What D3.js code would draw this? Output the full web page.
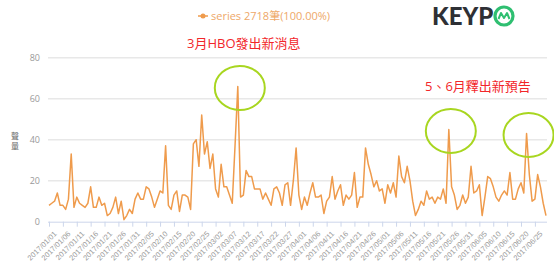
<!DOCTYPE html>
<html>
<head>
<meta charset="utf-8">
<script src="https://cdn.jsdelivr.net/npm/d3@7"></script>
<style>
  body { margin: 0; background: #fff; }
  svg { display: block; font-family: "Open Sans", "Noto Sans CJK TC", sans-serif; }
</style>
</head>
<body>
<svg id="chart" width="554" height="268"></svg>
<script>
// daily volume, 2017/01/01 .. 2017/06/29
const values = [
  8, 9, 10, 14, 8, 8, 6, 11, 33, 7,
  12, 9, 8, 7, 9, 17, 7, 7, 12, 8,
  9, 3, 4, 7, 12, 4, 10, 1, 3, 6,
  4, 11, 14, 11, 11, 17, 16, 12, 7, 11,
  15, 14, 37, 8, 6, 13, 15, 5, 13, 13,
  12, 6, 38, 40, 27, 52, 33, 39, 26, 33,
  16, 12, 28, 17, 17, 13, 9, 37, 66, 12,
  13, 25, 22, 22, 16, 16, 16, 11, 14, 11,
  8, 16, 17, 14, 8, 18, 19, 8, 20, 36,
  13, 6, 12, 8, 14, 19, 12, 12, 13, 4,
  10, 12, 22, 11, 15, 18, 8, 13, 11, 13,
  24, 7, 12, 12, 36, 28, 23, 17, 20, 15,
  16, 9, 18, 14, 19, 12, 32, 22, 19, 27,
  20, 10, 3, 6, 10, 8, 15, 11, 12, 9,
  12, 11, 16, 9, 45, 17, 13, 6, 8, 13,
  9, 12, 27, 14, 15, 18, 3, 12, 22, 21,
  17, 12, 10, 13, 15, 13, 24, 11, 11, 16,
  19, 14, 43, 23, 10, 11, 23, 17, 9, 3
];

const fmt = d3.timeFormat("%Y/%m/%d");
const dates = d3.timeDays(new Date(2017, 0, 1), new Date(2017, 0, 1 + values.length)).map(fmt);

const tickLabels = [
  "2017/01/01", "2017/01/06", "2017/01/11", "2017/01/16", "2017/01/21", "2017/01/26",
  "2017/01/31", "2017/02/05", "2017/02/10", "2017/02/15", "2017/02/20", "2017/02/25",
  "2017/03/02", "2017/03/07", "2017/03/12", "2017/03/17", "2017/03/22", "2017/03/27",
  "2017/04/01", "2017/04/06", "2017/04/11", "2017/04/16", "2017/04/21", "2017/04/26",
  "2017/05/01", "2017/05/06", "2017/05/11", "2017/05/16", "2017/05/21", "2017/05/26",
  "2017/05/31", "2017/06/05", "2017/06/10", "2017/06/15", "2017/06/20", "2017/06/25"
];
const yTicks = [0, 20, 40, 60, 80];

// highlighted peaks
const circled = ["2017/03/10", "2017/05/25", "2017/06/22"];

const svg = d3.select("#chart");

const x = d3.scalePoint().domain(dates).range([49, 546]);
const y = d3.scaleLinear().domain([0, 80]).range([221.7, 57.7]);

// grid
svg.append("g")
  .selectAll("line")
  .data(yTicks.filter(d => d > 0))
  .join("line")
  .attr("x1", 48).attr("x2", 547)
  .attr("y1", d => y(d)).attr("y2", d => y(d))
  .attr("stroke", "#e8e8e8")
  .attr("stroke-width", 1.5);

// y labels
svg.append("g")
  .selectAll("text")
  .data(yTicks)
  .join("text")
  .attr("x", 40)
  .attr("y", d => y(d) + 3)
  .attr("text-anchor", "end")
  .attr("font-size", 9)
  .attr("fill", "#999")
  .text(d => d);

// y name, stacked
svg.append("text")
  .attr("x", 15)
  .attr("y", 139)
  .attr("text-anchor", "middle")
  .attr("font-size", 8)
  .attr("fill", "#666")
  .selectAll("tspan")
  .data(["聲", "量"])
  .join("tspan")
  .attr("x", 15)
  .attr("dy", (d, i) => i ? 9.5 : 0)
  .text(d => d);

// x axis
const xAxis = svg.append("g")
  .attr("transform", `translate(0,${y(0)})`)
  .call(d3.axisBottom(x).tickValues(tickLabels).tickSize(5).tickSizeOuter(0));
xAxis.select(".domain").attr("stroke", "#ccd6eb").attr("d", "M48,0.5H547");
xAxis.selectAll(".tick line").attr("stroke", "#ccd6eb");
xAxis.selectAll(".tick text")
  .attr("font-size", 7.5)
  .attr("fill", "#999")
  .attr("text-anchor", "end")
  .attr("dy", 0)
  .attr("transform", "translate(2,7) rotate(-45)");

// series line
const line = d3.line()
  .x((d, i) => x(dates[i]))
  .y(d => y(d));

svg.append("path")
  .datum(values)
  .attr("fill", "none")
  .attr("stroke", "#ef9b4c")
  .attr("stroke-width", 1.5)
  .attr("stroke-linejoin", "round")
  .attr("d", line);

// circles around peaks
svg.append("g")
  .selectAll("ellipse")
  .data(circled)
  .join("ellipse")
  .attr("cx", d => x(d) + 2)
  .attr("cy", d => y(values[dates.indexOf(d)]) + 1.5)
  .attr("rx", 25)
  .attr("ry", 22)
  .attr("fill", "none")
  .attr("stroke", "#a8d620")
  .attr("stroke-width", 2);

// annotations
svg.append("text")
  .attr("x", 187).attr("y", 48)
  .attr("font-size", 13)
  .attr("fill", "#f2262a")
  .text("3月HBO發出新消息");
svg.append("text")
  .attr("x", 425).attr("y", 91)
  .attr("font-size", 13)
  .attr("fill", "#f2262a")
  .text("5、6月釋出新預告");

// legend
const lg = svg.append("g");
lg.append("line")
  .attr("x1", 198).attr("x2", 208).attr("y1", 16).attr("y2", 16)
  .attr("stroke", "#ef9b4c").attr("stroke-width", 1.5);
lg.append("circle")
  .attr("cx", 203).attr("cy", 16).attr("r", 2.5)
  .attr("fill", "#ef9b4c");
lg.append("text")
  .attr("x", 211).attr("y", 20)
  .attr("font-size", 11)
  .attr("fill", "#eea868")
  .text("series 2718筆(100.00%)");

// logo
svg.append("text")
  .attr("x", 432).attr("y", 25)
  .attr("font-family", "Lato, 'Open Sans', sans-serif")
  .attr("font-weight", "900")
  .attr("font-size", 24)
  .attr("fill", "#2e3035")
  .text("KEYP");
svg.append("circle")
  .attr("cx", 504).attr("cy", 16).attr("r", 9)
  .attr("fill", "none").attr("stroke", "#2fbf71").attr("stroke-width", 3.2);
svg.append("path")
  .attr("d", "M498.5,19 L501,13 L504,18 L507,13 L509.5,19")
  .attr("fill", "none").attr("stroke", "#2fbf71").attr("stroke-width", 2)
  .attr("stroke-linejoin", "round");
</script>
</body>
</html>
